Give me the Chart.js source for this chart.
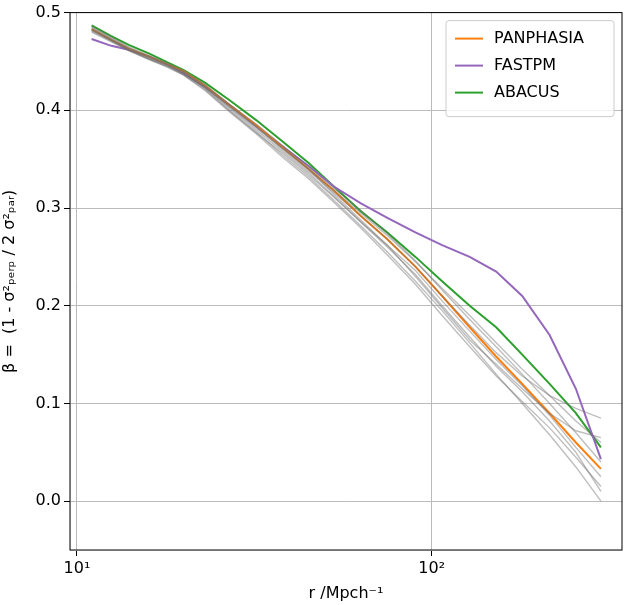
<!DOCTYPE html>
<html><head><meta charset="utf-8">
<script src="https://cdn.jsdelivr.net/npm/chart.js@4"></script>
<style>body{margin:0;background:#fff}#wrap{width:624px;height:605px}</style>
</head><body><div id="wrap"><canvas id="plots"></canvas></div>
<script>
// separations r (Mpc/h)
var r = [11,12.5,14,16,18,20,23,27,32,38,45,53,63,75,90,107,128,152,180,215,255,300];
var panphasia = [.483,.472,.463,.455,.447,.440,.425,.405,.385,.362,.340,.318,.292,.268,.240,.210,.178,.148,.120,.090,.060,.033];
var fastpm = [.473,.466,.462,.455,.447,.438,.424,.405,.384,.363,.343,.322,.305,.290,.275,.262,.250,.235,.210,.170,.115,.043];
var abacus = [.487,.476,.467,.458,.449,.441,.428,.410,.390,.368,.346,.322,.297,.275,.250,.225,.200,.178,.150,.120,.090,.055];
var greys = [
 [.482,.472,.462,.453,.446,.438,.424,.404,.383,.360,.338,.316,.292,.268,.240,.210,.180,.152,.128,.108,.095,.085],
 [.485,.474,.464,.455,.447,.439,.422,.400,.378,.354,.332,.308,.282,.255,.225,.195,.162,.130,.100,.068,.035,.000],
 [.480,.470,.461,.452,.444,.436,.420,.398,.376,.352,.330,.306,.280,.252,.222,.190,.158,.128,.102,.075,.045,.015],
 [.484,.473,.463,.455,.447,.440,.426,.406,.386,.364,.342,.320,.298,.274,.246,.216,.186,.158,.130,.100,.070,.040],
 [.483,.472,.462,.454,.446,.437,.423,.402,.380,.358,.336,.312,.286,.260,.232,.200,.168,.138,.112,.082,.050,.010],
 [.481,.471,.462,.453,.445,.437,.423,.403,.382,.361,.340,.318,.295,.272,.245,.218,.190,.162,.135,.108,.082,.060],
 [.486,.475,.465,.456,.448,.440,.425,.405,.384,.362,.340,.314,.288,.262,.236,.205,.174,.145,.118,.088,.055,.025],
 [.482,.471,.461,.452,.445,.436,.421,.399,.377,.356,.334,.311,.286,.262,.230,.198,.165,.140,.115,.090,.072,.065]
];
var xTicks = [10, 100];
var xTickLabels = {10: "10¹", 100: "10²"};
var yTicks = [0, 0.1, 0.2, 0.3, 0.4, 0.5];

function pts(v) { return r.map(function (x, i) { return {x: x, y: v[i]}; }); }

var datasets = greys.map(function (g) {
  return {label: "", data: pts(g), borderColor: "rgba(110,110,110,0.45)", borderWidth: 1.4, pointRadius: 0};
});
datasets.push({label: "PANPHASIA", data: pts(panphasia), borderColor: "#ff7f0e", borderWidth: 2, pointRadius: 0});
datasets.push({label: "FASTPM", data: pts(fastpm), borderColor: "#9467bd", borderWidth: 2, pointRadius: 0});
datasets.push({label: "ABACUS", data: pts(abacus), borderColor: "#2ca02c", borderWidth: 2, pointRadius: 0});

// legend box + frame, drawn by hand
var extras = {
  id: "extras",
  afterDraw: function (chart) {
    var c = chart.ctx, a = chart.chartArea;
    c.save();
    c.strokeStyle = "#000"; c.lineWidth = 1;
    c.strokeRect(a.left, a.top, a.right - a.left, a.bottom - a.top);
    var items = chart.data.datasets.filter(function (d) { return d.label; });
    var bx = a.right - 176, by = a.top + 8, bw = 168, bh = 96;
    c.fillStyle = "rgba(255,255,255,0.8)";
    c.strokeStyle = "#ccc";
    c.beginPath(); c.roundRect(bx, by, bw, bh, 3); c.fill(); c.stroke();
    c.font = "16px 'DejaVu Sans'"; c.textBaseline = "middle";
    items.forEach(function (d, i) {
      var y = by + 18 + i * 27;
      c.strokeStyle = d.borderColor; c.lineWidth = 2;
      c.beginPath(); c.moveTo(bx + 9, y); c.lineTo(bx + 37, y); c.stroke();
      c.fillStyle = "#000"; c.fillText(d.label, bx + 48, y);
    });
    c.restore();
  }
};

new Chart(document.getElementById("plots"), {
  type: "line",
  data: {datasets: datasets},
  plugins: [extras],
  options: {
    responsive: true, maintainAspectRatio: false, animation: false,
    layout: {padding: {top: 10, right: 2}},
    plugins: {legend: {display: false}, tooltip: {enabled: false}},
    scales: {
      x: {
        type: "logarithmic", min: 9.56, max: 344,
        afterBuildTicks: function (s) { s.ticks = xTicks.map(function (v) { return {value: v}; }); },
        afterFit: function (s) { s.height = 55; },
        ticks: {color: "#000", font: {family: "DejaVu Sans", size: 16}, maxRotation: 0,
          callback: function (v) { return xTickLabels[v] || ""; }},
        grid: {color: "#bbb", tickColor: "#000", tickLength: 6},
        title: {display: true, text: "r /Mpch⁻¹", color: "#000", font: {family: "DejaVu Sans", size: 16}, padding: 2}
      },
      y: {
        min: -0.05, max: 0.5,
        afterBuildTicks: function (s) { s.ticks = yTicks.map(function (v) { return {value: v}; }); },
        afterFit: function (s) { s.width = 70; },
        ticks: {color: "#000", font: {family: "DejaVu Sans", size: 16},
          callback: function (v) { return v.toFixed(1); }},
        grid: {color: "#bbb", tickColor: "#000", tickLength: 6},
        title: {display: true, text: "β =  (1 - σ²ₚₑᵣₚ / 2 σ²ₚₐᵣ)", color: "#000", font: {family: "DejaVu Sans", size: 16}, padding: 0}
      }
    }
  }
});
</script></body></html>
